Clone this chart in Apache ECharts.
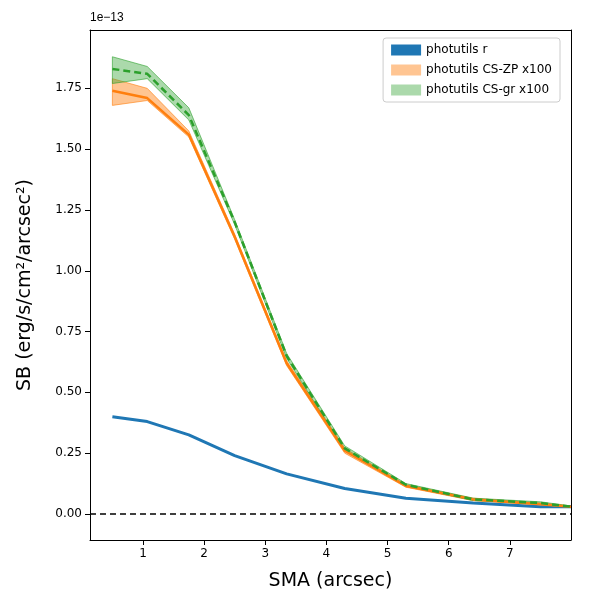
<!DOCTYPE html>
<html><head><meta charset="utf-8">
<script src="https://cdn.jsdelivr.net/npm/echarts@6/dist/echarts.min.js"></script>
<style>body{margin:0}#c{width:600px;height:600px}</style></head>
<body><div id="c"></div>
<script>
// values in units of 1e-13
const sma = [0.5, 1.07, 1.75, 2.5, 3.35, 4.3, 5.3, 6.4, 7.5, 8.0];
const sbR = [0.40, 0.38, 0.325, 0.24, 0.165, 0.105, 0.065, 0.045, 0.03, 0.03];
const zpMid = [1.74, 1.71, 1.56, 1.14, 0.62, 0.26, 0.115, 0.06, 0.04, 0.03];
const zpLo = [1.68, 1.70, 1.55, 1.13, 0.61, 0.25, 0.11, 0.055, 0.038, 0.028];
const zpHi = [1.79, 1.75, 1.575, 1.15, 0.63, 0.27, 0.12, 0.065, 0.045, 0.033];
const grMid = [1.83, 1.81, 1.64, 1.20, 0.65, 0.27, 0.12, 0.06, 0.045, 0.03];
const grLo = [1.77, 1.79, 1.62, 1.19, 0.64, 0.26, 0.115, 0.055, 0.042, 0.028];
const grHi = [1.88, 1.84, 1.67, 1.21, 0.66, 0.28, 0.125, 0.065, 0.05, 0.033];
const xTicks = [1, 2, 3, 4, 5, 6, 7];
const yTicks = [0, 0.25, 0.5, 0.75, 1.0, 1.25, 1.5, 1.75];

const pts = ys => sma.map((x, i) => [x, ys[i]]);

function band(name, lo, hi, fill, stroke) {
  return {
    name: name, type: 'custom', z: 1,
    itemStyle: { color: fill, borderColor: stroke },
    data: [[sma[0], lo[0]]],
    renderItem: function (params, api) {
      const poly = [];
      sma.forEach((x, i) => poly.push(api.coord([x, hi[i]])));
      for (let i = sma.length - 1; i >= 0; i--) poly.push(api.coord([sma[i], lo[i]]));
      return { type: 'polygon', shape: { points: poly },
        clipPath: { type: 'rect', shape: { x: params.coordSys.x, y: params.coordSys.y, width: params.coordSys.width, height: params.coordSys.height } },
        style: { fill: fill, stroke: stroke, lineWidth: 1 } };
    }
  };
}

const frame = { show: true, lineStyle: { color: '#000' } };
const chart = echarts.init(document.getElementById('c'));
chart.setOption({
  animation: false,
  textStyle: { fontFamily: 'DejaVu Sans' },
  grid: { left: 90, right: 29, top: 30, bottom: 60 },
  legend: {
    right: 40, top: 38, orient: 'vertical', itemWidth: 30, itemHeight: 11, itemGap: 8,
    padding: [6, 8], borderColor: '#ccc', borderWidth: 1, borderRadius: 3, backgroundColor: '#fff',
    textStyle: { fontSize: 12, color: '#000' },
    data: [
      { name: 'photutils r', icon: 'rect', itemStyle: { color: '#1f77b4' } },
      { name: 'photutils CS-ZP x100', icon: 'rect' },
      { name: 'photutils CS-gr x100', icon: 'rect' }
    ]
  },
  graphic: [{ type: 'text', left: 90, top: 12, style: { text: '1e\u221213', fontSize: 12, fill: '#000' } }],
  xAxis: [{
    type: 'value', min: 0.134, max: 8.0,
    name: 'SMA (arcsec)', nameLocation: 'middle', nameGap: 32,
    nameTextStyle: { fontSize: 19, color: '#000' },
    axisLine: { onZero: false, lineStyle: { color: '#000' } },
    axisTick: { customValues: xTicks, lineStyle: { color: '#000' } },
    axisLabel: { customValues: xTicks, color: '#000', fontSize: 12 },
    splitLine: { show: false }
  }, {
    type: 'value', position: 'top', min: 0.134, max: 8.0,
    axisLine: { onZero: false, lineStyle: { color: '#000' } }, axisTick: { show: false },
    axisLabel: { show: false }, splitLine: { show: false }
  }],
  yAxis: [{
    type: 'value', min: -0.107, max: 1.99,
    name: 'SB (erg/s/cm\u00b2/arcsec\u00b2)', nameLocation: 'middle', nameGap: 55,
    nameTextStyle: { fontSize: 19, color: '#000' },
    axisLine: frame,
    axisTick: { show: true, customValues: yTicks, lineStyle: { color: '#000' } },
    axisLabel: { customValues: yTicks, color: '#000', fontSize: 12, formatter: v => v.toFixed(2) },
    splitLine: { show: false }
  }, {
    type: 'value', position: 'right', min: -0.107, max: 1.99,
    axisLine: frame, axisTick: { show: false }, axisLabel: { show: false }, splitLine: { show: false }
  }],
  series: [
    band('photutils CS-ZP x100', zpLo, zpHi, 'rgba(255,127,14,0.45)', 'rgba(255,127,14,0.6)'),
    band('photutils CS-gr x100', grLo, grHi, 'rgba(44,160,44,0.4)', 'rgba(44,160,44,0.6)'),
    { name: 'photutils r', type: 'line', data: pts(sbR), symbol: 'none', z: 3,
      lineStyle: { color: '#1f77b4', width: 3 }, itemStyle: { color: '#1f77b4' },
      markLine: { silent: true, symbol: 'none', label: { show: false },
        lineStyle: { color: '#000', type: [6, 4], width: 1.5 }, data: [{ yAxis: 0 }] } },
    { name: 'zp', type: 'line', data: pts(zpMid), symbol: 'none', z: 3,
      lineStyle: { color: '#ff7f0e', width: 2.5 } },
    { name: 'gr', type: 'line', data: pts(grMid), symbol: 'none', z: 4,
      lineStyle: { color: '#2ca02c', width: 2.5, type: [7, 4] } }
  ]
});
</script></body></html>
